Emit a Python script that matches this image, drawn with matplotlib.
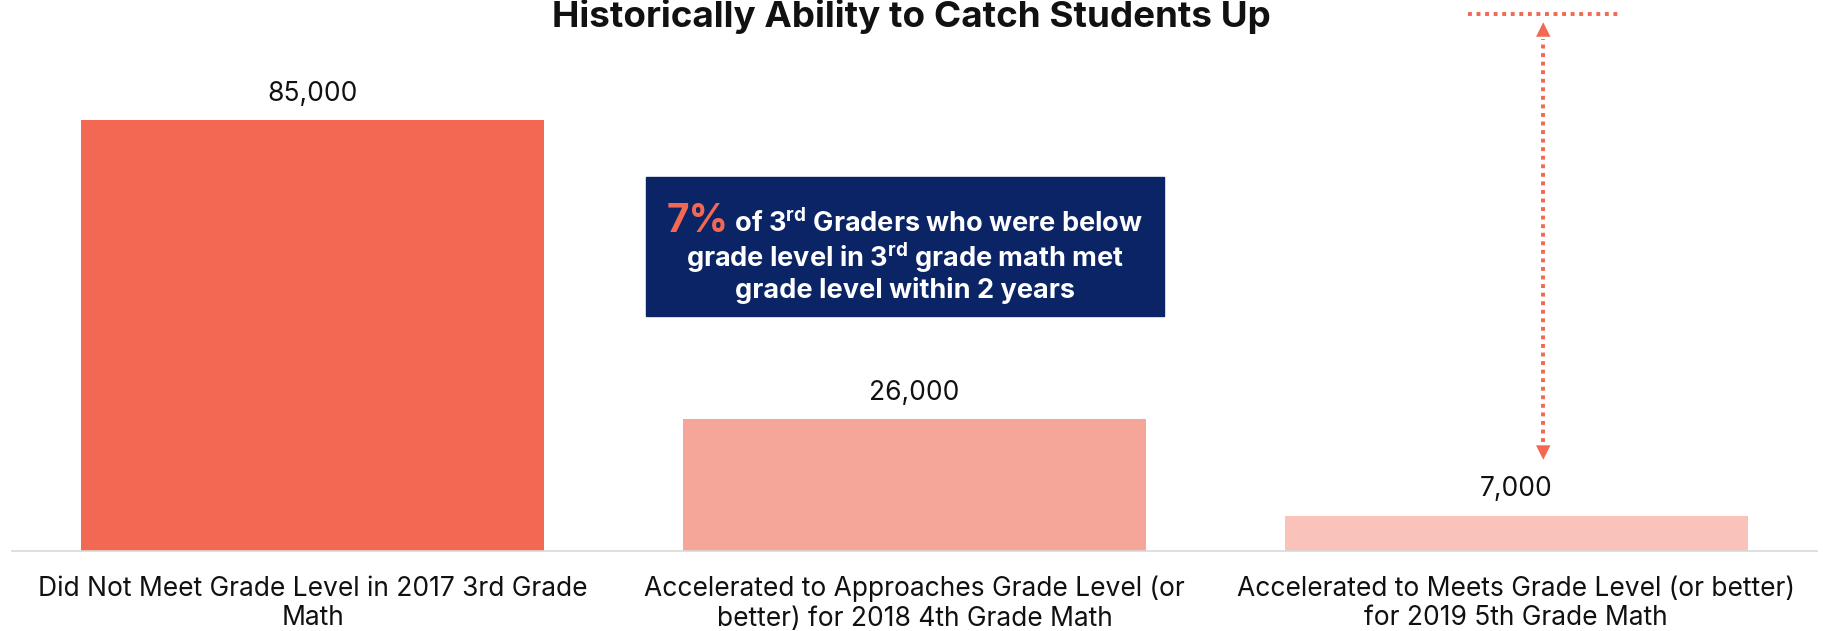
import matplotlib
matplotlib.use("Agg")
import matplotlib.pyplot as plt

plt.rcParams["font.family"] = ["Inter", "DejaVu Sans"]
plt.rcParams["mathtext.fontset"] = "custom"
plt.rcParams["mathtext.bf"] = "Inter:bold"
plt.rcParams["mathtext.rm"] = "Inter"

categories = [
    "Did Not Meet Grade Level in 2017 3rd Grade\nMath",
    "Accelerated to Approaches Grade Level (or\nbetter) for 2018 4th Grade Math",
    "Accelerated to Meets Grade Level (or better)\nfor 2019 5th Grade Math",
]
students = [85000, 26000, 7000]
value_labels = ["85,000", "26,000", "7,000"]
bar_colors = ["#F26852", "#F6A698", "#F9C3BA"]

ACCENT = "#F26852"
NAVY = "#0B2466"

fig = plt.figure(figsize=(18.23, 6.31), dpi=100)
ax = fig.add_axes([12 / 1823, 80 / 631, 1805 / 1823, 551 / 631])

x = list(range(len(categories)))
ax.bar(x, students, width=0.77, color=bar_colors, zorder=2)
for xi, val, lab in zip(x, students, value_labels):
    ax.text(xi, val + 2600, lab, ha="center", va="bottom", fontsize=19, color="#111111")

ax.set_xlim(-0.5, 2.5)
ax.set_ylim(0, 108700)
ax.set_xticks(x)
ax.set_xticklabels(categories, fontsize=19, color="#111111", linespacing=1.17)
ax.tick_params(axis="x", length=0, pad=18)
ax.set_yticks([])
for side in ("top", "right", "left"):
    ax.spines[side].set_visible(False)
ax.spines["bottom"].set_color("#D9D9D9")
ax.spines["bottom"].set_linewidth(1.2)

# title (cut off at the top edge in the original)
fig.text(0.5, 1 - 16 / 631, "Historically Ability to Catch Students Up",
         ha="center", va="center", fontsize=26.5, fontweight="bold", color="#111111")

# dotted gap marker: horizontal line, dotted shaft, solid heads
arrow_x = 2.045
ax.plot([1.92, 2.172], [105900, 105900], color=ACCENT, lw=2.8,
        ls=(0, (1, 1.2)), zorder=3)
ax.plot([arrow_x, arrow_x], [21500, 101000], color=ACCENT, lw=2.8,
        ls=(0, (1, 1.2)), zorder=3)
head = dict(arrowstyle="-|>", color=ACCENT, lw=0, mutation_scale=26, shrinkA=0, shrinkB=0)
ax.annotate("", xy=(arrow_x, 104300), xytext=(arrow_x, 99000), arrowprops=head)
ax.annotate("", xy=(arrow_x, 18000), xytext=(arrow_x, 23500), arrowprops=head)

# navy callout box
box_l, box_r = 646 / 1823, 1164 / 1823
box_b, box_t = 1 - 316 / 631, 1 - 177 / 631
fig.patches.append(plt.Rectangle((box_l, box_b), box_r - box_l, box_t - box_b,
                                 transform=fig.transFigure, color=NAVY, zorder=5))
cx = (box_l + box_r) / 2
fig.canvas.draw()
renderer = fig.canvas.get_renderer()
y1 = 1 - 221 / 631
big = fig.text(0, y1, "7%", ha="left", va="center", fontsize=28, fontweight="bold",
               color=ACCENT, zorder=6)
rest = fig.text(0, y1 - 0.004, r" of 3$^{\mathbf{rd}}$ Graders who were below", ha="left",
                va="center", fontsize=19.5, fontweight="bold", color="white", zorder=6)
wb = big.get_window_extent(renderer).width / fig.bbox.width
wr = rest.get_window_extent(renderer).width / fig.bbox.width
start = cx - (wb + wr) / 2
big.set_x(start)
rest.set_x(start + wb)
fig.text(cx, 1 - 258 / 631, r"grade level in 3$^{\mathbf{rd}}$ grade math met", ha="center",
         va="center", fontsize=19.5, fontweight="bold", color="white", zorder=6)
fig.text(cx, 1 - 290 / 631, "grade level within 2 years", ha="center", va="center",
         fontsize=19.5, fontweight="bold", color="white", zorder=6)

fig.savefig("out.png", dpi=100)
